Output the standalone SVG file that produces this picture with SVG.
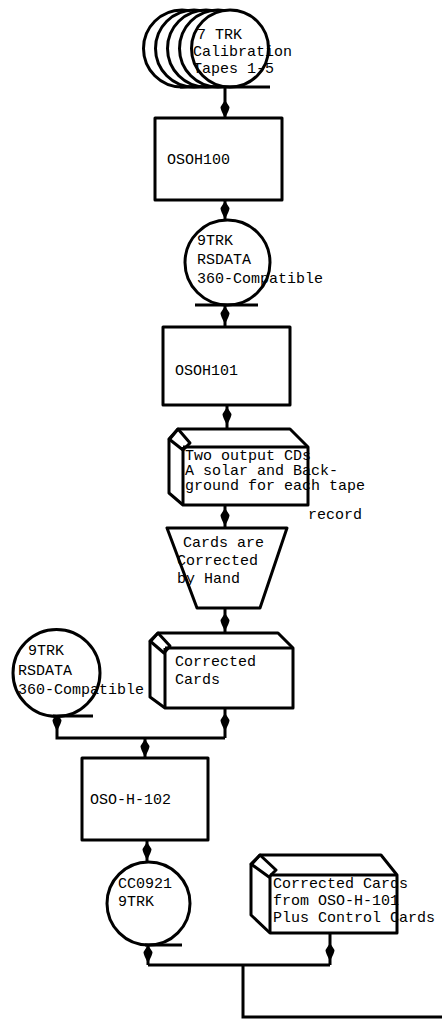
<svg xmlns="http://www.w3.org/2000/svg" xmlns:xlink="http://www.w3.org/1999/xlink" width="442" height="1021" viewBox="0 0 442 1021">
  <style>
    .shape { fill: #fff; stroke: #000; stroke-width: 3; stroke-linejoin: round; }
    .edge { fill: none; stroke: #000; stroke-width: 3; stroke-linejoin: round; }
    .wire { fill: none; stroke: #000; stroke-width: 3; }
    .label { font-family: "Liberation Mono", "DejaVu Sans Mono", monospace; font-size: 15px; fill: #000; }
  </style>
  <defs>
    <!-- flow arrowhead, tip at origin pointing down -->
    <path id="ah" d="M0,0 C-1.5,-3 -4.5,-8 -4.5,-11 L0,-18 L4.5,-11 C4.5,-8 1.5,-3 0,0 Z" fill="#000"/>
  </defs>

  <rect width="442" height="1021" fill="#fff"/>

  <!-- connectors -->
  <g id="connectors">
    <path class="wire" d="M225,87 V118"/>
    <use xlink:href="#ah" x="225" y="118"/>
    <path class="wire" d="M225,200 V220"/>
    <use xlink:href="#ah" x="225" y="219"/>
    <path class="wire" d="M225,305 V327"/>
    <use xlink:href="#ah" x="225" y="324"/>
    <path class="wire" d="M227,405 V428"/>
    <use xlink:href="#ah" x="227" y="425"/>
    <path class="wire" d="M225,505 V528"/>
    <use xlink:href="#ah" x="225" y="526"/>
    <path class="wire" d="M225,608 V633"/>
    <use xlink:href="#ah" x="225" y="631"/>
    <!-- merge into OSO-H-102 -->
    <path class="wire" d="M225,708 V738 M57,716 V738 H225 M145,738 V758"/>
    <use xlink:href="#ah" x="225" y="731"/>
    <use xlink:href="#ah" x="57" y="731"/>
    <use xlink:href="#ah" x="145" y="757"/>
    <path class="wire" d="M147,840 V862"/>
    <use xlink:href="#ah" x="147" y="860"/>
    <!-- final merge -->
    <path class="wire" d="M148,945 V965 M330,933 V965 M148,965 H330 M243,965 V1017 H442"/>
    <use xlink:href="#ah" x="148" y="963"/>
    <use xlink:href="#ah" x="330" y="961"/>
  </g>

  <!-- stacked calibration tapes -->
  <g id="tapes">
    <circle class="shape" cx="182" cy="48.5" r="38.5"/>
    <circle class="shape" cx="194" cy="48.5" r="38.5"/>
    <circle class="shape" cx="206" cy="48.5" r="38.5"/>
    <circle class="shape" cx="218" cy="48.5" r="38.5"/>
    <circle class="shape" cx="230" cy="48.5" r="38.5"/>
    <path class="wire" d="M180,87 H270"/>
    <text class="label" x="197" y="39">7 TRK</text>
    <text class="label" x="193" y="56">Calibration</text>
    <text class="label" x="193" y="73">Tapes 1-5</text>
  </g>

  <g id="osoh100">
    <rect class="shape" x="155" y="118" width="127" height="82"/>
    <text class="label" x="167" y="164">OSOH100</text>
  </g>

  <g id="rsdata-tape-1">
    <circle class="shape" cx="227.5" cy="262.5" r="42.5"/>
    <path class="wire" d="M195,305 H258"/>
    <text class="label" x="197" y="245">9TRK</text>
    <text class="label" x="197" y="264">RSDATA</text>
    <text class="label" x="197" y="283">360-Compatible</text>
  </g>

  <g id="osoh101">
    <rect class="shape" x="163" y="327" width="127" height="78"/>
    <text class="label" x="175" y="375">OSOH101</text>
  </g>

  <!-- card deck: two output cards per record -->
  <g id="output-cards">
    <path class="shape" d="M183,505 L169,493 L169,440 L178,429 L290,429 L308,447 L308,505 Z"/>
    <path class="edge" d="M183,447 H308 M183,447 V505"/>
    <path class="edge" d="M169,439 L178,429 L190,443 L183,450 Z"/>
    <text class="label" x="185" y="460">Two output CDs</text>
    <text class="label" x="185" y="475">A solar and Back-</text>
    <text class="label" x="185" y="490">ground for each tape</text>
    <text class="label" x="308" y="519">record</text>
  </g>

  <g id="hand-correction">
    <path class="shape" d="M167,528 L287,528 L260,608 L197,608 Z"/>
    <text class="label" x="183" y="547">Cards are</text>
    <text class="label" x="177" y="565">Corrected</text>
    <text class="label" x="177" y="583">by Hand</text>
  </g>

  <g id="corrected-cards">
    <path class="shape" d="M165,708 L150,697 L150,642 L158,633 L278,633 L293,648 L293,708 Z"/>
    <path class="edge" d="M165,648 H293 M165,648 V708"/>
    <path class="edge" d="M150,641 L158,633 L170,646 L164,653 Z"/>
    <text class="label" x="175" y="666">Corrected</text>
    <text class="label" x="175" y="684">Cards</text>
  </g>

  <g id="rsdata-tape-2">
    <circle class="shape" cx="56.5" cy="673" r="43.5"/>
    <path class="wire" d="M53,716 H93"/>
    <text class="label" x="28" y="655">9TRK</text>
    <text class="label" x="18" y="675">RSDATA</text>
    <text class="label" x="18" y="694">360-Compatible</text>
  </g>

  <g id="oso-h-102">
    <rect class="shape" x="82" y="758" width="126" height="82"/>
    <text class="label" x="90" y="804">OSO-H-102</text>
  </g>

  <g id="cc0921-tape">
    <circle class="shape" cx="148.5" cy="903.5" r="41.5"/>
    <path class="wire" d="M145,945 H182"/>
    <text class="label" x="118" y="888">CC0921</text>
    <text class="label" x="118" y="906">9TRK</text>
  </g>

  <g id="control-cards">
    <path class="shape" d="M270,933 L251,915 L251,865 L260,855 L381,855 L397,875 L397,933 Z"/>
    <path class="edge" d="M270,875 H397 M270,875 V933"/>
    <path class="edge" d="M251,864 L260,855 L276,870 L269,877 Z"/>
    <text class="label" x="273" y="888">Corrected Cards</text>
    <text class="label" x="273" y="905">from OSO-H-101</text>
    <text class="label" x="273" y="922">Plus Control Cards</text>
  </g>
</svg>
